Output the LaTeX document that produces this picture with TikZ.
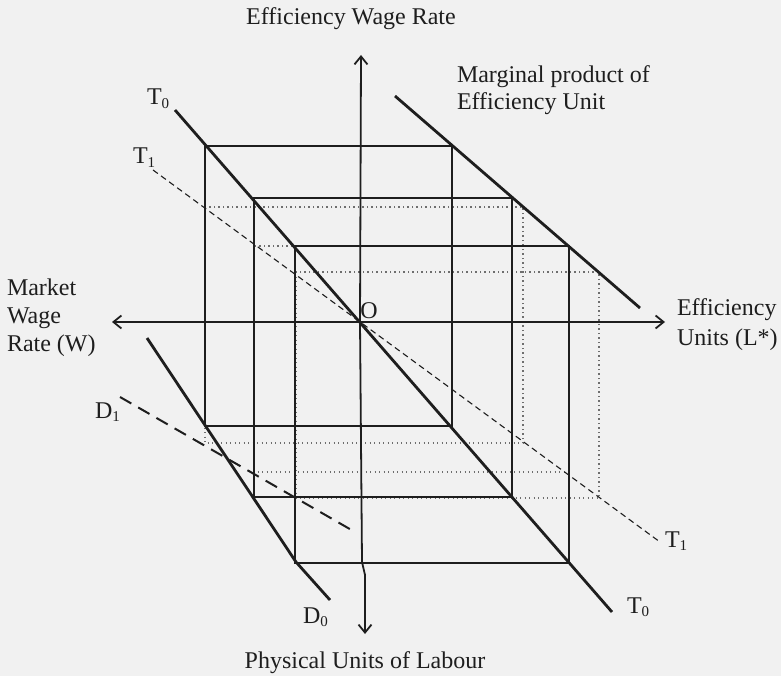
\documentclass[tikz,border=0pt]{standalone}
\usepackage{fontspec}
\setmainfont{Liberation Serif}
\usetikzlibrary{arrows.meta}
\definecolor{bgc}{RGB}{241,241,241}
\definecolor{ink}{RGB}{30,30,30}
\definecolor{dotc}{RGB}{110,110,110}
\newcommand{\subs}[1]{\raisebox{-3.5pt}{\fontsize{15}{15}\selectfont #1}}
\begin{document}
\begin{tikzpicture}[x=1pt,y=-1pt,
  lab/.style={inner sep=0pt, outer sep=0pt, font=\fontsize{24}{28}\selectfont, text=ink},
  curve/.style={line width=2.8pt, draw=ink},
  boxline/.style={line width=1.8pt, draw=ink},
  axis/.style={line width=1.8pt, draw=ink, -{Straight Barb[length=8pt,width=13pt]}},
  dotline/.style={line width=1.2pt, draw=dotc, dash pattern=on 1.2pt off 3.3pt},
  tdash/.style={line width=1.1pt, draw=ink, dash pattern=on 6pt off 4pt},
  ddash/.style={line width=2pt, draw=ink, dash pattern=on 13pt off 8pt}]
\fill[bgc] (0,0) rectangle (781,676);
\useasboundingbox (0,0) rectangle (781,676);

% coordinates
\coordinate (O) at (360,322);
\coordinate (xl) at (112,322);
\coordinate (xr) at (665,322);
\coordinate (yt) at (361,55);
\coordinate (yk1) at (362,562);
\coordinate (yk2) at (365,575);
\coordinate (yb) at (365,634);

% dotted boxes (T1 shift)
\draw[dotline] (205,207) rectangle (523,443);
\draw[dotline] (254,246) rectangle (569,472);
\draw[dotline] (296,272) rectangle (599,498);

% solid boxes
\draw[boxline] (205,146) rectangle (452,426);
\draw[boxline] (254,198) rectangle (512,497);
\draw[boxline] (295,246) rectangle (569,563);

% axes
\draw[axis] (O) -- (xl);
\draw[axis] (O) -- (xr);
\draw[axis] (O) -- (yt);
\draw[axis] (O) -- (yk1) -- (yk2) -- (yb);

% curves
\coordinate (T0a) at (175,110);
\coordinate (T0b) at (612,612);
\draw[curve] (T0a) -- (T0b);
\coordinate (T1a) at (153,170);
\coordinate (T1b) at (660,542);
\draw[tdash] (T1a) -- (T1b);
\coordinate (MPa) at (395,96);
\coordinate (MPb) at (640,308);
\draw[curve] (MPa) -- (MPb);
\coordinate (D0a) at (147,338);
\coordinate (D0k) at (296,562);
\coordinate (D0b) at (330,600);
\draw[curve] (D0a) -- (D0k) -- (D0b);
\coordinate (D1a) at (120,397);
\coordinate (D1b) at (355,532);
\draw[ddash] (D1a) -- (D1b);

% labels
\node[lab, anchor=base] (ltop) at (351,25) {Efficiency Wage Rate};
\node[lab, anchor=base] (lbot) at (365,668) {Physical Units of Labour};
\node[lab, anchor=base west] (lm1) at (7,295) {Market};
\node[lab, anchor=base west] (lm2) at (7,323) {Wage};
\node[lab, anchor=base west] (lm3) at (7,351) {Rate (W)};
\node[lab, anchor=base west] (le1) at (677,315) {Efficiency};
\node[lab, anchor=base west] (le2) at (677,345) {Units (L*)};
\node[lab, anchor=base west] (lp1) at (457,83) {Marginal product of};
\node[lab, anchor=base west] (lp2) at (457,110) {Efficiency Unit};
\node[lab] (lO) at (369,311) {O};
\node[lab, anchor=base west] (lT0t) at (147,105) {T\subs{0}};
\node[lab, anchor=base west] (lT1t) at (133,164) {T\subs{1}};
\node[lab, anchor=base west] (lT1b) at (665,547) {T\subs{1}};
\node[lab, anchor=base west] (lT0b) at (627,613) {T\subs{0}};
\node[lab, anchor=base west] (lD0) at (303,623) {D\subs{0}};
\node[lab, anchor=base west] (lD1) at (95,418) {D\subs{1}};
\end{tikzpicture}
\end{document}
